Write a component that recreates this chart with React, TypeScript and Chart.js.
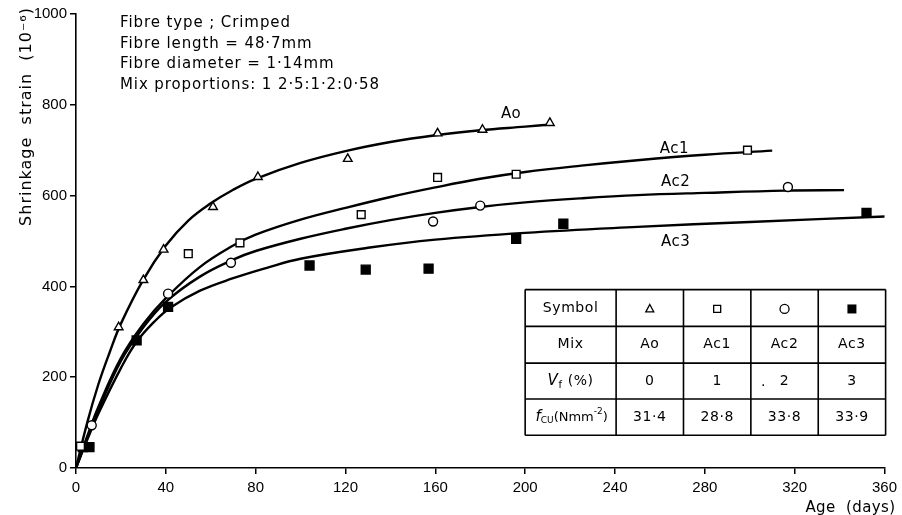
import React, { useEffect, useRef } from 'react';
import { Chart, registerables } from 'chart.js';

Chart.register(...registerables);

// ---------- data ----------
const X_TICK_STEP = 40;
const Y_TICK_STEP = 200;

// fitted curves (age in days, shrinkage strain 1e-6)
const aoCurveX = [0, 5, 10, 15, 20, 30, 40, 50, 60, 70, 80, 100, 120, 140, 160, 180, 200, 212];
const aoCurveY = [0, 100, 185, 255, 318, 415, 490, 545, 583, 613, 637, 672, 698, 718, 733, 744, 752, 757];

const ac1CurveX = [0, 5, 10, 20, 30, 40, 55, 70, 80, 100, 120, 140, 160, 180, 200, 225, 250, 280, 310];
const ac1CurveY = [0, 70, 135, 242, 317, 374, 442, 490, 514, 547, 573, 597, 618, 637, 652, 666, 678, 690, 699];

const ac2CurveX = [0, 5, 10, 20, 30, 40, 55, 70, 80, 100, 120, 140, 160, 180, 200, 225, 250, 280, 316, 342];
const ac2CurveY = [0, 66, 128, 236, 310, 366, 421, 459, 478, 505, 527, 546, 562, 575, 585, 594, 601, 606, 611, 612];

const ac3CurveX = [0, 5, 10, 20, 27, 35, 42, 55, 70, 85, 100, 130, 160, 200, 250, 300, 361];
const ac3CurveY = [0, 62, 120, 220, 278, 323, 353, 390, 418, 441, 461, 485, 503, 518, 531, 542, 554];

// measured points
const aoPtsX = [19, 30, 39, 61, 81, 121, 161, 181, 211];
const aoPtsY = [310, 414, 481, 575, 641, 681, 737, 745, 760];

const ac1PtsX = [2, 50, 73, 127, 161, 196, 299];
const ac1PtsY = [48, 472, 496, 558, 640, 647, 700];

const ac2PtsX = [7, 41, 69, 159, 180, 317];
const ac2PtsY = [94, 384, 452, 543, 578, 619];

const ac3PtsX = [3, 6, 27, 41, 104, 129, 157, 196, 217, 352];
const ac3PtsY = [46, 46, 281, 355, 446, 437, 439, 505, 538, 562];

// curve labels
const curveLabels = ['Ao', 'Ac1', 'Ac2', 'Ac3'];
const curveLabelX = [193.7, 266.5, 267, 267];
const curveLabelY = [780, 703, 629, 497];

// info text
const infoLines = [
  'Fibre type ; Crimped',
  'Fibre length = 48·7mm',
  'Fibre diameter = 1·14mm',
  'Mix proportions: 1 2·5:1·2:0·58',
];

// table
const tableMixes = ['Ao', 'Ac1', 'Ac2', 'Ac3'];
const tableVf = ['0', '1', '2', '3'];
const tableFcu = ['31·4', '28·8', '33·8', '33·9'];
const tableSymbols = ['triangle', 'rectSmall', 'circle', 'rectFilled'];

const xTitle = 'Age  (days)';
const yTitle = 'Shrinkage  strain  (10⁻⁶)';

const zip = (xs: number[], ys: number[]) => xs.map((x, i) => ({ x, y: ys[i] }));

const FONT = '"DejaVu Sans", sans-serif';
const TICK_FONT = '"Liberation Sans", sans-serif';

function drawSymbol(ctx: CanvasRenderingContext2D, kind: string, x: number, y: number) {
  ctx.save();
  ctx.strokeStyle = '#000';
  ctx.fillStyle = '#000';
  ctx.lineWidth = 1.3;
  ctx.beginPath();
  if (kind === 'triangle') {
    ctx.moveTo(x, y - 4.5);
    ctx.lineTo(x + 4, y + 3);
    ctx.lineTo(x - 4, y + 3);
    ctx.closePath();
    ctx.stroke();
  } else if (kind === 'rectSmall') {
    ctx.rect(x - 3.5, y - 3.5, 7, 7);
    ctx.stroke();
  } else if (kind === 'circle') {
    ctx.arc(x, y, 4.5, 0, Math.PI * 2);
    ctx.stroke();
  } else {
    ctx.rect(x - 4.5, y - 4.5, 9, 9);
    ctx.fill();
  }
  ctx.restore();
}

type Seg = { t: string; font: string; dy: number; w?: number };
function drawRich(ctx: CanvasRenderingContext2D, segs: Seg[], cx: number, cy: number) {
  let total = 0;
  for (const s of segs) {
    ctx.font = s.font;
    s.w = ctx.measureText(s.t).width;
    total += s.w;
  }
  let x = cx - total / 2;
  ctx.textAlign = 'left';
  ctx.textBaseline = 'middle';
  for (const s of segs) {
    ctx.font = s.font;
    ctx.fillText(s.t, x, cy + s.dy);
    x += s.w || 0;
  }
}

const decorPlugin = {
  id: 'decor',
  afterDraw(chart: any) {
    const ctx: any = chart.ctx;
    const xs = chart.scales.x;
    const ys = chart.scales.y;
    const area = chart.chartArea;
    ctx.save();
    ctx.fillStyle = '#000';
    ctx.strokeStyle = '#000';

    // info text
    ctx.font = `15px ${FONT}`;
    ctx.letterSpacing = '0.9px';
    ctx.textAlign = 'left';
    ctx.textBaseline = 'alphabetic';
    infoLines.forEach((l, i) => {
      ctx.fillText(l, area.left + 44, area.top + 13 + i * 20.5);
    });

    // curve labels
    ctx.letterSpacing = '0.5px';
    ctx.textAlign = 'center';
    ctx.textBaseline = 'middle';
    curveLabels.forEach((l, i) => {
      ctx.fillText(l, xs.getPixelForValue(curveLabelX[i]), ys.getPixelForValue(curveLabelY[i]));
    });

    // axis titles
    ctx.letterSpacing = '0.4px';
    ctx.textAlign = 'right';
    ctx.textBaseline = 'alphabetic';
    ctx.fillText(xTitle, area.right + 11, area.bottom + 44);

    ctx.save();
    ctx.font = `16px ${FONT}`;
    ctx.letterSpacing = '1px';
    ctx.translate(area.left - 49, area.top - 7);
    ctx.rotate(-Math.PI / 2);
    ctx.textAlign = 'right';
    ctx.textBaseline = 'middle';
    ctx.fillText(yTitle, 0, 0);
    ctx.restore();
    ctx.letterSpacing = '0px';

    // table
    const colDays = [200, 240.5, 270.5, 300.5, 330.5, 360.5];
    const rowVals = [393, 312, 231, 152, 72];
    const cx = colDays.map((d) => xs.getPixelForValue(d));
    const ry = rowVals.map((v) => ys.getPixelForValue(v));
    ctx.lineWidth = 1.6;
    ctx.beginPath();
    cx.forEach((x) => {
      ctx.moveTo(x, ry[0]);
      ctx.lineTo(x, ry[ry.length - 1]);
    });
    ry.forEach((y) => {
      ctx.moveTo(cx[0], y);
      ctx.lineTo(cx[cx.length - 1], y);
    });
    ctx.stroke();

    const mid = (a: number[], i: number) => (a[i] + a[i + 1]) / 2;
    const f14 = `14px ${FONT}`;
    const f13 = `13px ${FONT}`;
    const f14i = `italic 15px ${FONT}`;
    const f10 = `10px ${FONT}`;
    const f9 = `9px ${FONT}`;
    ctx.letterSpacing = '0.6px';
    ctx.font = f14;
    ctx.textAlign = 'center';
    ctx.textBaseline = 'middle';
    ctx.fillText('Symbol', mid(cx, 0), mid(ry, 0));
    ctx.fillText('Mix', mid(cx, 0), mid(ry, 1));
    drawRich(ctx, [
      { t: 'V', font: f14i, dy: 0 },
      { t: 'f', font: f10, dy: 4 },
      { t: ' (%)', font: f14, dy: 0 },
    ], mid(cx, 0), mid(ry, 2));
    ctx.letterSpacing = '0px';
    drawRich(ctx, [
      { t: 'f', font: f14i, dy: 0 },
      { t: 'CU', font: f9, dy: 4 },
      { t: '(Nmm', font: f13, dy: 0 },
      { t: '-2', font: f9, dy: -5 },
      { t: ')', font: f13, dy: 0 },
    ], mid(cx, 0) + 1, mid(ry, 3));
    ctx.letterSpacing = '0.6px';

    for (let i = 0; i < 4; i++) {
      drawSymbol(ctx, tableSymbols[i], mid(cx, i + 1), mid(ry, 0) + 1);
      ctx.font = f14;
      ctx.textAlign = 'center';
      ctx.textBaseline = 'middle';
      ctx.fillText(tableMixes[i], mid(cx, i + 1), mid(ry, 1));
      ctx.fillText(tableVf[i], mid(cx, i + 1), mid(ry, 2));
      ctx.fillText(tableFcu[i], mid(cx, i + 1), mid(ry, 3));
    }
    // stray dot in the 2 cell
    ctx.fillText('.', mid(cx, 3) - 21, mid(ry, 2) + 1);

    ctx.restore();
  },
};

export default function App() {
  const ref = useRef<HTMLCanvasElement>(null);

  useEffect(() => {
    if (!ref.current) return;
    const curve = (xs: number[], ys: number[]) => ({
      type: 'line' as const,
      data: zip(xs, ys),
      borderColor: '#000',
      borderWidth: 2.4,
      pointRadius: 0,
      tension: 0.4,
      fill: false,
      order: 2,
    });
    const pts = (xs: number[], ys: number[], style: string, r: number, bg: string) => ({
      type: 'scatter' as const,
      data: zip(xs, ys),
      pointStyle: style,
      pointRadius: r,
      pointBorderWidth: 1.4,
      pointBorderColor: '#000',
      pointBackgroundColor: bg,
      borderColor: '#000',
      backgroundColor: bg,
      showLine: false,
      order: 1,
    });

    const chart = new Chart(ref.current, {
      type: 'scatter',
      data: {
        datasets: [
          curve(aoCurveX, aoCurveY),
          curve(ac1CurveX, ac1CurveY),
          curve(ac2CurveX, ac2CurveY),
          curve(ac3CurveX, ac3CurveY),
          pts(aoPtsX, aoPtsY, 'triangle', 5, '#fff'),
          pts(ac1PtsX, ac1PtsY, 'rect', 5.5, '#fff'),
          pts(ac2PtsX, ac2PtsY, 'circle', 4.5, '#fff'),
          pts(ac3PtsX, ac3PtsY, 'rect', 6.3, '#000'),
        ] as any,
      },
      options: {
        animation: false,
        responsive: false,
        events: [],
        layout: { padding: { top: 14, right: 15, left: 0, bottom: 0 } },
        plugins: {
          legend: { display: false },
          tooltip: { enabled: false },
          title: { display: false },
        },
        scales: {
          x: {
            type: 'linear',
            min: 0,
            max: 360,
            afterFit: (s: any) => {
              s.height = 47;
            },
            ticks: {
              stepSize: X_TICK_STEP,
              color: '#000',
              padding: 5,
              maxRotation: 0,
              font: { family: TICK_FONT, size: 15 },
              callback: (v: any) => String(v),
            },
            grid: {
              drawOnChartArea: false,
              drawTicks: true,
              tickLength: 6,
              color: '#000',
              lineWidth: 1.5,
            },
            border: { display: true, color: '#000', width: 1.6 },
          },
          y: {
            type: 'linear',
            min: 0,
            max: 1000,
            afterFit: (s: any) => {
              s.width = 76;
            },
            ticks: {
              stepSize: Y_TICK_STEP,
              color: '#000',
              padding: 3,
              font: { family: TICK_FONT, size: 15 },
              callback: (v: any) => String(v),
            },
            grid: {
              drawOnChartArea: false,
              drawTicks: true,
              tickLength: 6,
              color: '#000',
              lineWidth: 1.5,
            },
            border: { display: true, color: '#000', width: 1.6 },
          },
        },
      },
      plugins: [decorPlugin],
    });
    return () => chart.destroy();
  }, []);

  return (
    <div style={{ position: 'absolute', left: 0, top: 0, width: 902, height: 515, background: '#fff' }}>
      <canvas ref={ref} width={902} height={515} style={{ width: 902, height: 515 }} />
    </div>
  );
}
